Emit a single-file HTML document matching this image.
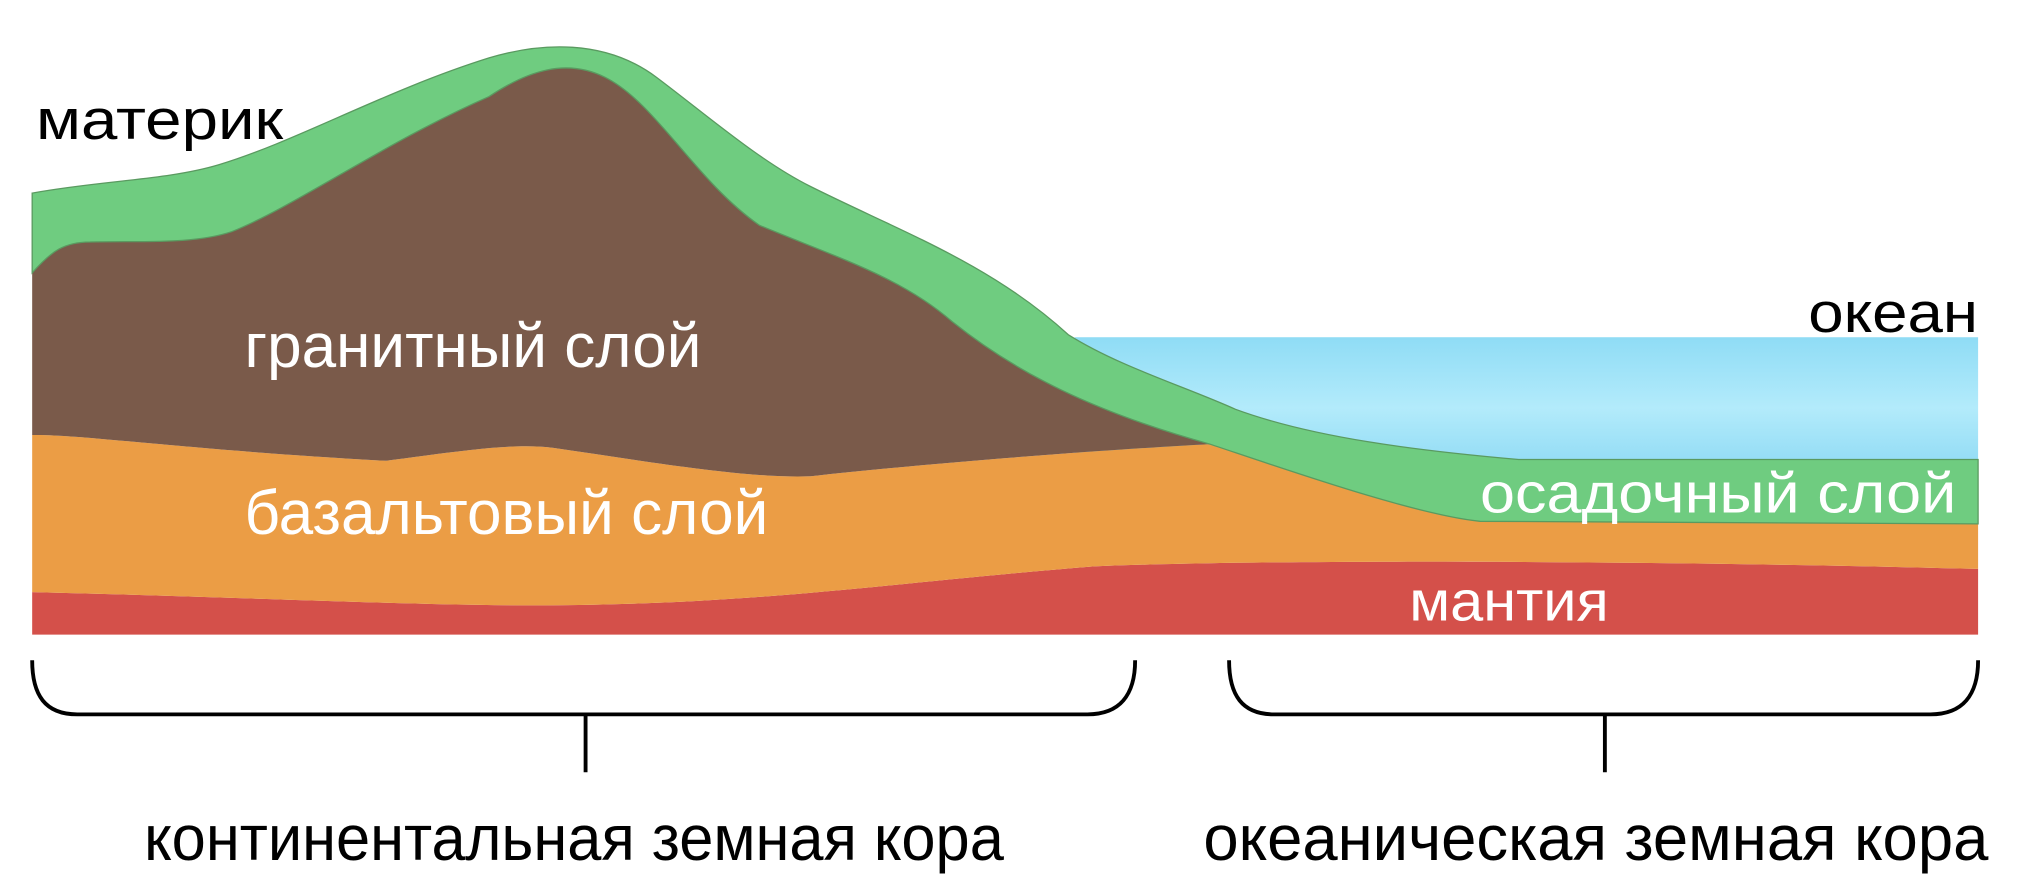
<!DOCTYPE html>
<html><head><meta charset="utf-8"><style>html,body{margin:0;padding:0;background:#fff;width:2018px;height:892px;overflow:hidden}svg{display:block}text{font-family:"Liberation Sans",sans-serif}</style></head>
<body>
<svg width="2018" height="892" viewBox="0 0 1568 693" preserveAspectRatio="none" xmlns="http://www.w3.org/2000/svg">
<defs>
<linearGradient id="oc" x1="0" y1="0" x2="0" y2="1"><stop offset="0" stop-color="#8fdcf5"/><stop offset="0.5" stop-color="#b3ebfb"/><stop offset="1" stop-color="#8ad8f3"/></linearGradient>
</defs>
<rect x="835" y="262" width="702" height="110" fill="url(#oc)"/>
<path d="M25,460 C200,464 350,472 450,470 C600,468 700,452 850,440 C1000,434 1300,436 1537,442 L1537,493 L25,493 Z" fill="#d4504a"/>
<path d="M25,338 C60,337 150,350 300,358 C360,350 400,344 430,348 C500,358 580,372 630,370 C720,360 850,350 940,345 C1000,365 1100,400 1150,405 L1537,407 L1537,442 C1300,436 1000,434 850,440 C700,452 600,468 450,470 C350,472 200,464 25,460 Z" fill="#eb9d45"/>
<path d="M25,212 C40,195 50,188 70,188 C110,187 150,190 180,180 C230,160 300,110 380,75 C410,55 440,45 470,60 C510,80 540,140 590,175 C650,200 700,215 740,250 C790,290 850,320 940,345 C850,350 720,360 630,370 C580,372 500,358 430,348 C400,344 360,350 300,358 C150,350 60,337 25,338 Z" fill="#7a5a4a"/>
<path d="M25,150 C80,140 130,140 170,128 C230,110 300,70 380,45 C420,33 470,30 510,60 C550,90 590,125 630,145 C700,180 770,205 830,260 C870,285 920,300 960,318 C1020,340 1100,350 1180,357 L1537,357 L1537,407 L1150,405 C1100,400 1000,365 940,345 C850,320 790,290 740,250 C700,215 650,200 590,175 C540,140 510,80 470,60 C440,45 410,55 380,75 C300,110 230,160 180,180 C150,190 110,187 70,188 C50,188 40,195 25,212 Z" fill="#6fcc80" stroke="#5a9a60" stroke-width="1"/>
<g fill="none" stroke="#000" stroke-width="3">
<path d="M25,513 C25,540 35,555 60,555 L845,555 C870,555 882,540 882,513 M455,555 L455,600"/>
<path d="M955,513 C955,540 965,555 990,555 L1500,555 C1525,555 1537,540 1537,513 M1247,555 L1247,600"/>
</g>
<text x="28" y="108" font-size="44" textLength="192" lengthAdjust="spacingAndGlyphs">материк</text>
<text x="1405" y="258" font-size="44" textLength="132" lengthAdjust="spacingAndGlyphs">океан</text>
<text x="190" y="285" font-size="48" fill="#fff" textLength="355" lengthAdjust="spacingAndGlyphs">гранитный слой</text>
<text x="190" y="415" font-size="48" fill="#fff" textLength="407" lengthAdjust="spacingAndGlyphs">базальтовый слой</text>
<text x="1150" y="398" font-size="44" fill="#fff" textLength="370" lengthAdjust="spacingAndGlyphs">осадочный слой</text>
<text x="1095" y="482" font-size="44" fill="#fff" textLength="155" lengthAdjust="spacingAndGlyphs">мантия</text>
<text x="112" y="668" font-size="50" textLength="668" lengthAdjust="spacingAndGlyphs">континентальная земная кора</text>
<text x="935" y="668" font-size="50" textLength="610" lengthAdjust="spacingAndGlyphs">океаническая земная кора</text>
</svg>
</body></html>
